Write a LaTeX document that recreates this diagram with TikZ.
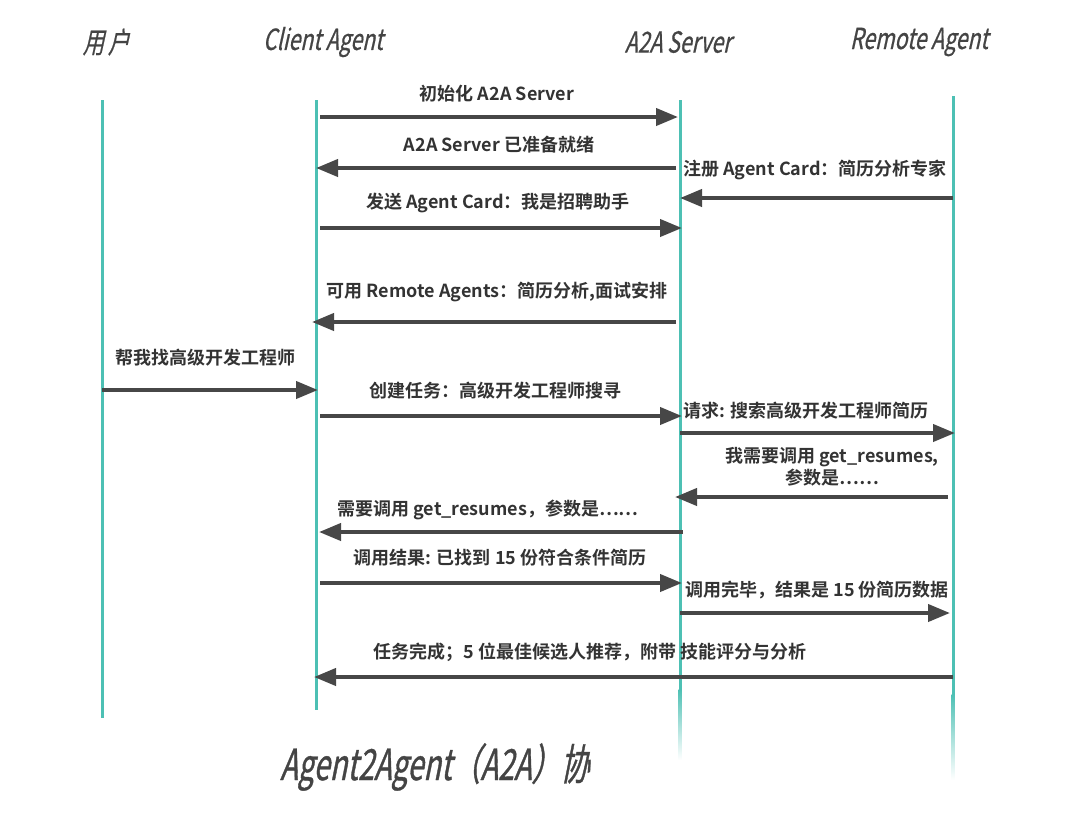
\documentclass[tikz,border=0pt]{standalone}
\usepackage{fontspec}
\usetikzlibrary{arrows.meta}
\newfontfamily\cjkbold{Noto Sans CJK SC Bold}
\newfontfamily\hdrfont[FakeSlant=0.22,FakeStretch=0.73,FakeBold=0.6]{Noto Sans CJK SC}
\newfontfamily\titlefont[FakeSlant=0.2,FakeStretch=0.67,FakeBold=0.8]{Noto Sans CJK SC}
\definecolor{lifeteal}{HTML}{4DC0B4}
\definecolor{arrgray}{HTML}{474747}
\definecolor{txtgray}{HTML}{333333}
\definecolor{hdrgray}{HTML}{444444}
\tikzset{
  lifeline/.style={draw=lifeteal,line width=3pt},
  msg/.style={draw=arrgray,line width=4pt,-{Triangle[length=22pt,width=17pt]}},
  msglabel/.style={font=\cjkbold\fontsize{18}{22}\selectfont,text=txtgray,inner sep=0pt,align=center},
  header/.style={font=\hdrfont\fontsize{29}{32}\selectfont,text=hdrgray,inner sep=0pt},
}
\begin{document}
\begin{tikzpicture}[x=1pt,y=-1pt]
\useasboundingbox (0,0) rectangle (1080,815);
\fill[white] (0,0) rectangle (1080,815);
% headers
\node[header] (hU) at (106,42) {用\hspace{4pt}户};
\node[header] (hC) at (323,42) {Client Agent};
\node[header] (hS) at (678,42) {A2A Server};
\node[header] (hR) at (919,42) {Remote Agent};
% lifeline ends
\coordinate (uT) at (102,100); \coordinate (uB) at (102,718);
\coordinate (cT) at (316,100); \coordinate (cB) at (316,710);
\coordinate (sT) at (680,100); \coordinate (sB) at (680,690);
\coordinate (rT) at (953,96);  \coordinate (rB) at (953,695);
\draw[lifeline] (uT) -- (uB);
\draw[lifeline] (cT) -- (cB);
\draw[lifeline] (sT) -- (sB);
\draw[lifeline] (rT) -- (rB);
\shade[top color=lifeteal,bottom color=white] (678.5,689) rectangle (681.5,760);
\shade[top color=lifeteal,bottom color=white] (951.5,694) rectangle (954.5,780);
% message endpoints
\coordinate (m1a) at (320,117); \coordinate (m1b) at (678,117);
\coordinate (m2a) at (676,168); \coordinate (m2b) at (316,168);
\coordinate (m3a) at (953,198); \coordinate (m3b) at (680,198);
\coordinate (m4a) at (320,228); \coordinate (m4b) at (682,228);
\coordinate (m5a) at (676,322); \coordinate (m5b) at (312,322);
\coordinate (m6a) at (102,390); \coordinate (m6b) at (318,390);
\coordinate (m7a) at (320,416); \coordinate (m7b) at (682,416);
\coordinate (m8a) at (680,433); \coordinate (m8b) at (955,433);
\coordinate (m9a) at (948,497); \coordinate (m9b) at (675,497);
\coordinate (m10a) at (683,532); \coordinate (m10b) at (319,532);
\coordinate (m11a) at (320,583); \coordinate (m11b) at (682,583);
\coordinate (m12a) at (680,613); \coordinate (m12b) at (950,613);
\coordinate (m13a) at (953,677); \coordinate (m13b) at (314,677);
\draw[msg] (m1a) -- (m1b);
\draw[msg] (m2a) -- (m2b);
\draw[msg] (m3a) -- (m3b);
\draw[msg] (m4a) -- (m4b);
\draw[msg] (m5a) -- (m5b);
\draw[msg] (m6a) -- (m6b);
\draw[msg] (m7a) -- (m7b);
\draw[msg] (m8a) -- (m8b);
\draw[msg] (m9a) -- (m9b);
\draw[msg] (m10a) -- (m10b);
\draw[msg] (m11a) -- (m11b);
\draw[msg] (m12a) -- (m12b);
\draw[msg] (m13a) -- (m13b);
% labels
\node[msglabel] (l1) at (497,94) {初始化 A2A Server};
\node[msglabel] (l2) at (499,145) {A2A Server 已准备就绪};
\node[msglabel] (l3) at (815,170) {注册 Agent Card：简历分析专家};
\node[msglabel] (l4) at (498,203) {发送 Agent Card：我是招聘助手};
\node[msglabel] (l5) at (497,292) {可用 Remote Agents：简历分析,面试安排};
\node[msglabel] (l6) at (205,358) {帮我找高级开发工程师};
\node[msglabel] (l7) at (495,391) {创建任务：高级开发工程师搜寻};
\node[msglabel] (l8) at (806,411) {请求: 搜索高级开发工程师简历};
\node[msglabel] (l9) at (832,467) {我需要调用 get\_resumes,\\参数是……};
\node[msglabel] (l10) at (488,510) {需要调用 get\_resumes，参数是……};
\node[msglabel] (l11) at (500,558) {调用结果: 已找到 15 份符合条件简历};
\node[msglabel] (l12) at (817,590) {调用完毕，结果是 15 份简历数据};
\node[msglabel] (l13) at (590,652) {任务完成；5 位最佳候选人推荐，附带 技能评分与分析};
% title
\node[header,font=\titlefont\fontsize{43}{46}\selectfont,anchor=west] (title) at (280,767) {Agent2Agent（A2A）协};
\end{tikzpicture}
\end{document}
